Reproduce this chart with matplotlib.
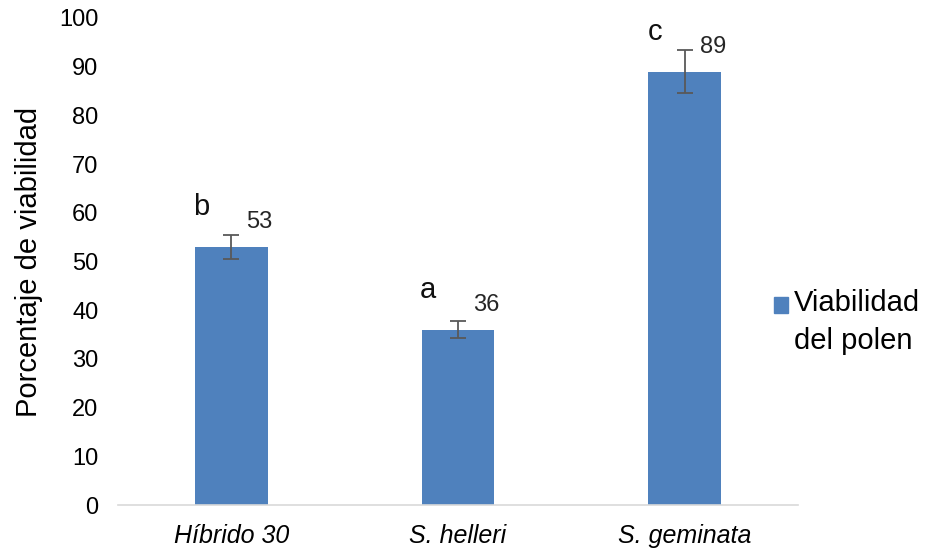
import matplotlib.pyplot as plt
from matplotlib.patches import Patch

plt.rcParams['font.family'] = ['Liberation Sans', 'DejaVu Sans']

categories = ['Híbrido 30', 'S. helleri', 'S. geminata']
viability = [53, 36, 89]
errors = [2.4, 1.8, 4.5]
letters = ['b', 'a', 'c']

fig = plt.figure(figsize=(9.25, 5.5), dpi=100)
ax = fig.add_axes([0.1276, 0.0818, 0.7351, 0.8855])

x = range(len(categories))
ax.bar(x, viability, width=0.32, color='#4F81BD', yerr=errors,
       error_kw=dict(ecolor='#595959', elinewidth=1.3, capsize=5.5, capthick=1.3))

for i, v in enumerate(viability):
    ax.annotate(str(v), (i, v), xytext=(28, 25), textcoords='offset pixels',
                ha='center', va='center', fontsize=17, color='#262626')
    ax.annotate(letters[i], (i, v), xytext=(-30, 40), textcoords='offset pixels',
                ha='center', va='center', fontsize=21, color='#111111')

ax.set_xlim(-0.5, 2.5)
ax.set_ylim(0, 100)
ax.set_yticks(range(0, 101, 10))
ax.set_xticks(list(x))
ax.set_xticklabels(categories, fontstyle='italic', fontsize=18)
ax.tick_params(axis='y', length=0, labelsize=17, pad=14)
ax.tick_params(axis='x', length=0, pad=14)
ax.set_ylabel('Porcentaje de viabilidad', fontsize=21, labelpad=12)

for s in ['top', 'right', 'left']:
    ax.spines[s].set_visible(False)
ax.spines['bottom'].set_color('#D9D9D9')
ax.spines['bottom'].set_linewidth(1.2)

leg = fig.legend(handles=[Patch(color='#4F81BD', label='Viabilidad\ndel polen')],
                 loc='center left', bbox_to_anchor=(0.808, 0.415), frameon=False,
                 fontsize=21, handlelength=0.5, handleheight=0.5, handletextpad=0.2,
                 labelspacing=0)
for t in leg.get_texts():
    t.set_linespacing(1.45)
# put the square beside the first line, as in the original
sq = leg.legend_handles[0]
sq.set_y(sq.get_y() + 12.5)

plt.savefig('out.png')
